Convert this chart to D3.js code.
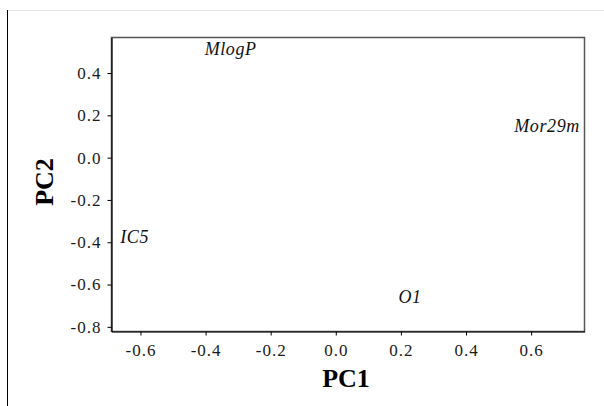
<!DOCTYPE html>
<html>
<head>
<meta charset="utf-8">
<script src="https://cdn.jsdelivr.net/npm/d3@7"></script>
<style>
  body { margin: 0; background: #fff; }
  svg { display: block; }
  svg text { font-family: "Liberation Serif", "Times New Roman", serif; }
</style>
</head>
<body>
<svg id="chart" width="604" height="406"></svg>
<script>
// loadings for PC1 / PC2
var labels = ["MlogP", "Mor29m", "IC5", "O1"];
var pc1 = [-0.323, 0.649, -0.618, 0.228];
var pc2 = [0.516, 0.149, -0.372, -0.659];
var xTicks = [-0.6, -0.4, -0.2, 0.0, 0.2, 0.4, 0.6];
var yTicks = [0.4, 0.2, 0.0, -0.2, -0.4, -0.6, -0.8];

var svg = d3.select("#chart");
var mLeft = 111.5, mRight = 584.5, mTop = 37.5, mBottom = 331.5;

var x = d3.scaleLinear().domain([-0.689, 0.764]).range([mLeft, mRight]);
var y = d3.scaleLinear().domain([0.568, -0.822]).range([mTop, mBottom]);

// page frame lines
svg.append("line").attr("x1", 7).attr("x2", 604).attr("y1", 10.5).attr("y2", 10.5)
    .attr("stroke", "#e6e6e6");
svg.append("line").attr("x1", 7.5).attr("x2", 7.5).attr("y1", 10).attr("y2", 406)
    .attr("stroke", "#000");

// plot box
svg.append("rect")
    .attr("x", mLeft).attr("y", mTop)
    .attr("width", mRight - mLeft).attr("height", mBottom - mTop)
    .attr("fill", "none").attr("stroke", "#555").attr("stroke-width", 1.5);

// plain hyphen instead of unicode minus, as in the original
var fmt = function(d) { return d3.format(".1f")(d).replace("\u2212", "-"); };

var xAxis = svg.append("g")
    .attr("transform", "translate(0," + mBottom + ")")
    .call(d3.axisBottom(x).tickValues(xTicks).tickFormat(fmt).tickSize(4).tickSizeOuter(0));
var yAxis = svg.append("g")
    .attr("transform", "translate(" + mLeft + ",0)")
    .call(d3.axisLeft(y).tickValues(yTicks).tickFormat(fmt).tickSize(4).tickSizeOuter(0));

[xAxis, yAxis].forEach(function(a) {
  a.attr("font-family", null);
  a.select(".domain").attr("stroke", "#000").attr("stroke-width", 1.2);
  a.selectAll("line").attr("stroke", "#000");
  a.selectAll("text")
      .style("font-size", "17px")
      .style("letter-spacing", "1px")
      .attr("fill", "#1a1a1a");
});
xAxis.selectAll("text").attr("dy", "1.05em");
yAxis.selectAll("text").attr("x", -10);

// axis titles
svg.append("text")
    .attr("x", 346).attr("y", 387)
    .attr("text-anchor", "middle")
    .style("font-size", "26px").style("font-weight", "bold")
    .text("PC1");
svg.append("text")
    .attr("transform", "translate(53,182) rotate(-90)")
    .attr("text-anchor", "middle")
    .style("font-size", "26px").style("font-weight", "bold")
    .text("PC2");

// variable labels
svg.append("g").selectAll("text")
  .data(labels)
  .enter().append("text")
    .attr("x", function(d, i) { return x(pc1[i]); })
    .attr("y", function(d, i) { return y(pc2[i]); })
    .attr("dy", "0.35em")
    .attr("text-anchor", "middle")
    .style("font-style", "italic")
    .style("font-size", "18px")
    .style("letter-spacing", "0.6px")
    .attr("fill", "#111")
    .text(function(d) { return d; });
</script>
</body>
</html>
